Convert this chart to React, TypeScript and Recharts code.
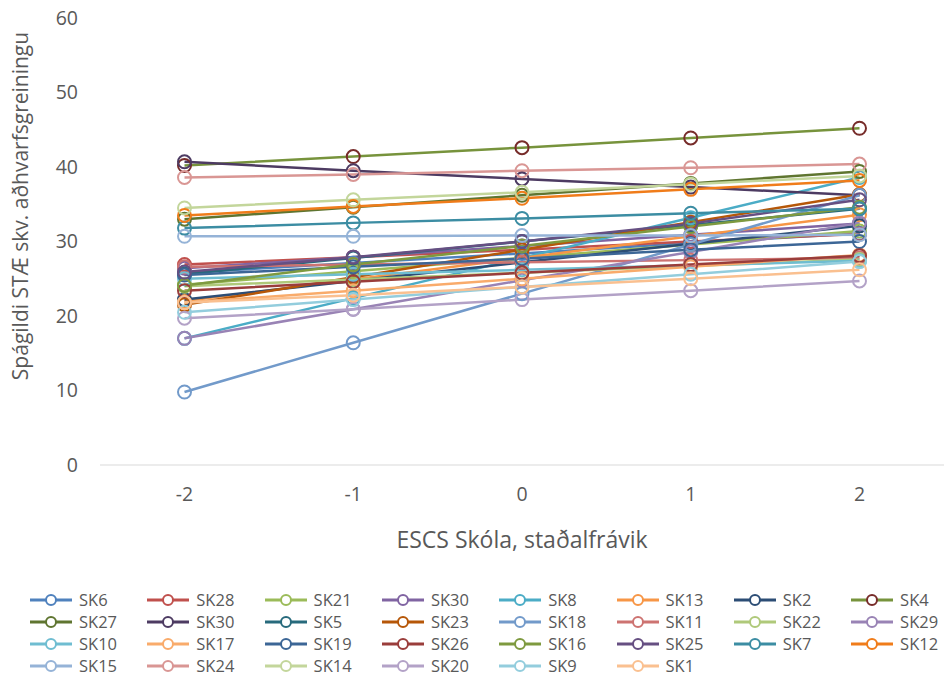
import { LineChart, Line, XAxis, YAxis, Legend, Label } from 'recharts';

const categories = [-2, -1, 0, 1, 2];
const yTicks = [0, 10, 20, 30, 40, 50, 60];

const seriesNames = [
  'SK6', 'SK28', 'SK21', 'SK30', 'SK8', 'SK13', 'SK2', 'SK4',
  'SK27', 'SK30', 'SK5', 'SK23', 'SK18', 'SK11', 'SK22', 'SK29',
  'SK10', 'SK17', 'SK19', 'SK26', 'SK16', 'SK25', 'SK7', 'SK12',
  'SK15', 'SK24', 'SK14', 'SK20', 'SK9', 'SK1',
];

const seriesValues = [
  [25.8, 27.1, 28.4, 29.8, 31.1], // SK6
  [26.9, 27.9, 28.9, 30.0, 31.0], // SK28
  [24.2, 26.0, 27.8, 29.6, 31.4], // SK21
  [26.4, 27.9, 29.4, 30.9, 32.4], // SK30
  [17.0, 22.4, 27.8, 33.2, 38.6], // SK8
  [22.0, 24.9, 27.8, 30.7, 33.6], // SK13
  [22.2, 24.7, 27.2, 29.7, 32.1], // SK2
  [40.2, 41.4, 42.6, 43.9, 45.2], // SK4
  [33.0, 34.6, 36.2, 37.8, 39.4], // SK27
  [40.7, 39.5, 38.4, 37.3, 36.2], // SK30
  [25.6, 27.8, 30.0, 32.2, 34.4], // SK5
  [21.5, 25.2, 28.9, 32.6, 36.3], // SK23
  [9.8, 16.4, 23.0, 29.6, 36.2], // SK18
  [26.6, 26.9, 27.2, 27.5, 27.8], // SK11
  [24.0, 24.9, 25.8, 26.7, 27.6], // SK22
  [17.0, 20.9, 24.8, 28.6, 32.5], // SK29
  [25.0, 25.6, 26.2, 26.8, 27.4], // SK10
  [21.8, 23.4, 25.0, 26.6, 28.2], // SK17
  [25.5, 26.6, 27.7, 28.9, 30.0], // SK19
  [23.4, 24.6, 25.8, 26.9, 28.1], // SK26
  [24.1, 26.9, 29.4, 32.0, 34.6], // SK16
  [25.9, 27.9, 30.0, 32.4, 35.6], // SK25
  [31.8, 32.5, 33.1, 33.8, 34.4], // SK7
  [33.5, 34.7, 35.8, 37.0, 38.2], // SK12
  [30.7, 30.7, 30.8, 30.8, 30.9], // SK15
  [38.6, 39.0, 39.5, 39.9, 40.4], // SK24
  [34.5, 35.6, 36.6, 37.7, 38.8], // SK14
  [19.7, 20.9, 22.2, 23.4, 24.7], // SK20
  [20.5, 22.2, 23.9, 25.6, 27.3], // SK9
  [21.8, 22.8, 23.9, 25.0, 26.2], // SK1
];

const lineColors = [
  '#4F81BD', '#C0504D', '#9BBB59', '#8064A2', '#4BACC6', '#F79646', '#2C4D75', '#77933C',
  '#5F7530', '#4D3B62', '#276A7C', '#B65708', '#729ACA', '#CD7371', '#AFC97A', '#9983B5',
  '#6FBDD1', '#F9AB6B', '#3C6696', '#9A3D3B', '#7E9A3F', '#664F82', '#3C8DA3', '#F07C1A',
  '#95B3D7', '#D99694', '#C3D69B', '#B3A2C7', '#93CDDD', '#FAC090',
];

const markerColors = lineColors.map((c, i) => (i === 7 ? '#772C2A' : c));

const data = categories.map((x, ci) => {
  const row: Record<string, number> = { x };
  seriesValues.forEach((vals, si) => {
    row['s' + si] = vals[ci];
  });
  return row;
});

const FONT = '"Open Sans", sans-serif';
const TEXT = '#595959';

function LegendGrid() {
  return (
    <div style={{ position: 'relative', width: 940, height: 84, fontFamily: FONT, fontSize: 16.5, color: TEXT }}>
      {seriesNames.map((name, i) => {
        const col = i % 8;
        const row = Math.floor(i / 8);
        return (
          <div
            key={i}
            style={{
              position: 'absolute',
              left: 30 + col * 117.3,
              top: row * 22,
              height: 18,
              lineHeight: '18px',
              display: 'flex',
              alignItems: 'center',
              whiteSpace: 'nowrap',
            }}
          >
            <svg width={42} height={14} style={{ marginRight: 7 }}>
              <line x1={0} y1={7} x2={42} y2={7} stroke={lineColors[i]} strokeWidth={3} />
              <circle cx={21} cy={7} r={5} fill="white" stroke={markerColors[i]} strokeWidth={2} />
            </svg>
            <span>{name}</span>
          </div>
        );
      })}
    </div>
  );
}

export default function App() {
  return (
    <div style={{ position: 'absolute', left: 0, top: 0, width: 945, height: 678, background: '#fff' }}>
      <LineChart
        width={945}
        height={678}
        data={data}
        margin={{ top: 18, right: 1, left: 40, bottom: 153 }}
      >
        <XAxis
          dataKey="x"
          type="category"
          padding={{ left: 84.5, right: 84.5 }}
          height={60}
          tickLine={false}
          tickSize={0}
          tickMargin={22}
          axisLine={{ stroke: '#D9D9D9', strokeWidth: 1 }}
          tick={{ fill: TEXT, fontSize: 19.5, fontFamily: FONT }}
        >
          <Label
            value="ESCS Skóla, staðalfrávik"
            position="bottom"
            offset={7}
            style={{ fill: TEXT, fontSize: 23, fontFamily: FONT }}
          />
        </XAxis>
        <YAxis
          width={60}
          domain={[0, 60]}
          ticks={yTicks}
          interval={0}
          axisLine={false}
          tickLine={false}
          tickSize={0}
          tickMargin={22}
          tick={{ fill: TEXT, fontSize: 19.5, fontFamily: FONT }}
        >
          <Label
            content={() => (
              <text
                x={20}
                y={206}
                transform="rotate(-90 20 206)"
                textAnchor="middle"
                dominantBaseline="central"
                style={{ fill: TEXT, fontSize: 21, fontFamily: FONT }}
              >
                Spágildi STÆ skv. aðhvarfsgreiningu
              </text>
            )}
          />
        </YAxis>
        <Legend
          layout="horizontal"
          verticalAlign="middle"
          align="center"
          wrapperStyle={{ position: 'absolute', top: 591, left: 0, width: 945 }}
          content={() => <LegendGrid />}
        />
        {seriesValues.map((_, i) => (
          <Line
            key={i}
            type="linear"
            dataKey={'s' + i}
            name={seriesNames[i]}
            stroke={lineColors[i]}
            strokeWidth={2.5}
            dot={{ r: 6.5, stroke: markerColors[i], strokeWidth: 2, fill: 'none' }}
            isAnimationActive={false}
          />
        ))}
      </LineChart>
    </div>
  );
}
